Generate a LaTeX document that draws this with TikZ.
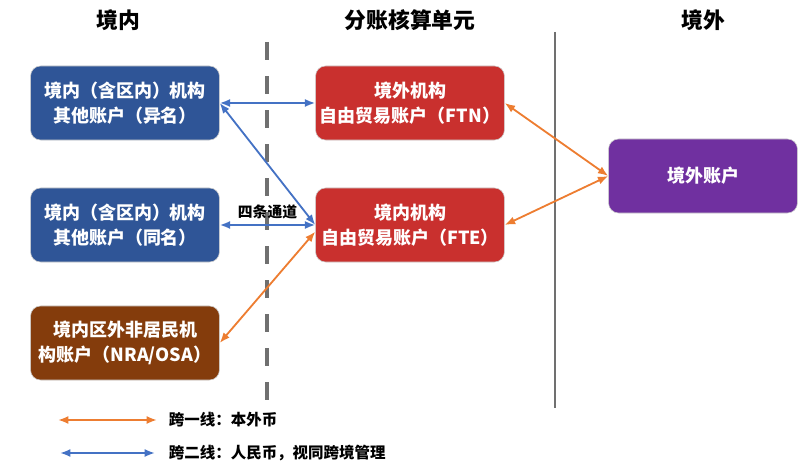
\documentclass[tikz,border=0pt]{standalone}
\usepackage{fontspec}
\setmainfont{Noto Sans CJK SC}
\usepackage{xcolor}
\usetikzlibrary{arrows.meta,positioning}

\definecolor{acctblue}{HTML}{2F5597}
\definecolor{acctred}{HTML}{C9302E}
\definecolor{acctbrown}{HTML}{843C0C}
\definecolor{acctpurple}{HTML}{7030A0}
\definecolor{lineone}{HTML}{ED7D31}
\definecolor{linetwo}{HTML}{4472C4}
\definecolor{divider}{HTML}{707070}

\begin{document}
\begin{tikzpicture}[x=0.025cm, y=-0.025cm,
    acct/.style={rounded corners=2.5mm, draw=white!80!black, line width=0.4pt,
      text=white, font=\bfseries\fontsize{12.8}{17.5}\selectfont, align=center,
      minimum width=4.72cm, minimum height=1.85cm, inner sep=0pt},
    head/.style={font=\bfseries\fontsize{15.5}{18}\selectfont},
    one/.style={lineone, line width=1.3pt, {Latex[length=2.6mm,width=2mm]}-{Latex[length=2.6mm,width=2mm]}},
    two/.style={linetwo, line width=1.3pt, {Latex[length=2.6mm,width=2mm]}-{Latex[length=2.6mm,width=2mm]}},
    legend/.style={anchor=west, font=\bfseries\fontsize{11}{13}\selectfont}]
  \useasboundingbox (0,0) rectangle (800,471);

  % column heads
  \node[head] (hin)  at (118,20) {境内};
  \node[head] (hftu) at (410,20) {分账核算单元};
  \node[head] (hout) at (703,20) {境外};

  % dividers
  \draw[divider, line width=3.5pt, dash pattern=on 4.5mm off 4mm] (267,42) -- (267,403);
  \draw[divider, line width=1.4pt] (555,32) -- (555,408);

  % accounts
  \node[acct, fill=acctblue]   (other1) at (125,103) {境内（含区内）机构\\其他账户（异名）};
  \node[acct, fill=acctblue]   (other2) at (125,225) {境内（含区内）机构\\其他账户（同名）};
  \node[acct, fill=acctbrown]  (nra)    at (125,343) {境内区外非居民机\\构账户（NRA/OSA）};
  \node[acct, fill=acctred]    (ftn)    at (410,103) {境外机构\\自由贸易账户（FTN）};
  \node[acct, fill=acctred]    (fte)    at (410,225) {境内机构\\自由贸易账户（FTE）};
  \node[acct, fill=acctpurple] (abroad) at (703,176) {境外账户};

  % four channels
  \path (other1.east) edge[two] (ftn.west)
        (other1.east) edge[two] (fte.west)
        (other2.east) edge[two] node[above=0pt, text=black, font=\bfseries\fontsize{10.5}{12}\selectfont] {四条通道} (fte.west)
        (fte.184)     edge[one] (nra.east)
        (ftn.east)    edge[one] (abroad.west)
        (fte.east)    edge[one] (abroad.west)
        ;

  % legend
  \coordinate (l1a) at (58,420);
  \coordinate (l1b) at (157,420);
  \coordinate (l2a) at (60,453);
  \coordinate (l2b) at (155,453);
  \draw[one] (l1a) -- (l1b);
  \draw[two] (l2a) -- (l2b);
  \node[legend] (t1) at (164,420) {跨一线：本外币};
  \node[legend] (t2) at (164,453) {跨二线：人民币，视同跨境管理};
\end{tikzpicture}
\end{document}
